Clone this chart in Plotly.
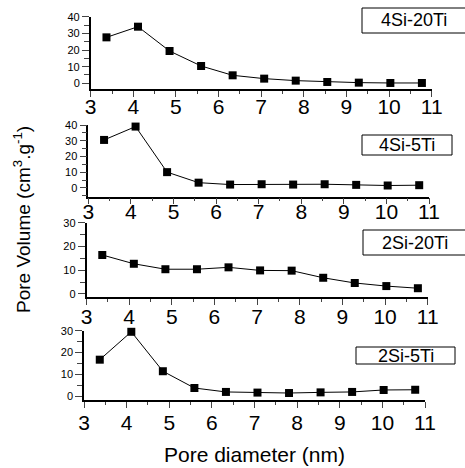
import plotly.graph_objects as go

# Pore diameter (nm) shared by all four samples
pore_diameter = [3.37, 4.11, 4.85, 5.59, 6.33, 7.07, 7.81, 8.55, 9.29, 10.03, 10.77]

# Pore volume (cm3/g) per sample
vol_4si_20ti = [27.6, 34.0, 19.4, 10.4, 4.8, 2.8, 1.6, 0.8, 0.4, 0.2, 0.2]
vol_4si_5ti = [30.5, 39.0, 10.0, 3.3, 2.1, 2.3, 2.1, 2.3, 1.9, 1.5, 1.7]
vol_2si_20ti = [16.4, 12.7, 10.4, 10.4, 11.2, 9.9, 9.8, 6.8, 4.6, 3.3, 2.4]
vol_2si_5ti = [16.7, 29.5, 11.4, 3.7, 1.9, 1.6, 1.4, 1.7, 1.9, 2.8, 2.9]

sample_names = ["4Si-20Ti", "4Si-5Ti", "2Si-20Ti", "2Si-5Ti"]
x_ticks = [3, 4, 5, 6, 7, 8, 9, 10, 11]

W, H = 465, 468
FONT = "Liberation Sans, Arial, sans-serif"

series = [vol_4si_20ti, vol_4si_5ti, vol_2si_20ti, vol_2si_5ti]
# panel layout in pixels: (left, right, top, bottom), y range, y ticks, x label standoff
panels = [
    ((90.7, 431.7, 16.7, 89.3), [-3.6, 40], [0, 10, 20, 30, 40], -8),
    ((88.3, 429.0, 125.0, 196.5), [-5.5, 40], [0, 10, 20, 30, 40], -10),
    ((86.5, 427.7, 222.7, 297.0), [-1.3, 30], [0, 10, 20, 30], -6),
    ((84.0, 425.0, 330.7, 400.0), [-1.8, 30], [0, 10, 20, 30], -3),
]
# sample label boxes: (left, right, top, bottom) in pixels
boxes = [
    (362, 466, 8, 33),
    (362, 452, 135, 155),
    (363, 466, 230, 255),
    (356, 455, 347, 364),
]


def px_x(v):
    return v / W


def px_y(v):
    return 1 - v / H


fig = go.Figure()
annotations = []
shapes = []
for i, (vals, (geo, yr, yt, standoff), name, box) in enumerate(
        zip(series, panels, sample_names, boxes)):
    n = "" if i == 0 else str(i + 1)
    l, r, t, b = geo
    fig.add_trace(go.Scatter(
        x=pore_diameter, y=vals, mode="lines+markers",
        line=dict(color="black", width=1),
        marker=dict(symbol="square", size=8, color="black"),
        xaxis="x" + n, yaxis="y" + n, showlegend=False, cliponaxis=False,
    ))
    fig.update_layout(**{
        "xaxis" + n: dict(
            domain=[px_x(l), px_x(r)], anchor="y" + n, range=[3, 11],
            tickvals=x_ticks, ticks="outside", ticklen=6, tickwidth=1.3,
            showline=True, linecolor="black", linewidth=1.5, showgrid=False,
            zeroline=False, automargin=False, ticklabelstandoff=standoff,
            tickfont=dict(size=21, color="black", family=FONT),
            minor=dict(dtick=0.5, ticks="outside", ticklen=3, tickwidth=1.3, showgrid=False),
        ),
        "yaxis" + n: dict(
            domain=[px_y(b), px_y(t)], anchor="x" + n, range=yr,
            tickvals=yt, ticks="outside", ticklen=7, tickwidth=1.3,
            showline=True, linecolor="black", linewidth=1.5, showgrid=False,
            zeroline=False, automargin=False,
            tickfont=dict(size=11, color="black", family=FONT),
            minor=dict(dtick=5, ticks="outside", ticklen=5, tickwidth=1.3, showgrid=False),
        ),
    })
    bl, br, bt, bb = box
    shapes.append(dict(
        type="rect", xref="paper", yref="paper",
        x0=px_x(bl), x1=px_x(br), y0=px_y(bb), y1=px_y(bt),
        line=dict(color="black", width=1), fillcolor="white", layer="above",
    ))
    annotations.append(dict(
        text=name, xref="paper", yref="paper",
        x=px_x((bl + br) / 2), y=px_y((bt + bb) / 2),
        xanchor="center", yanchor="middle", showarrow=False,
        font=dict(size=18, color="black", family=FONT),
    ))

annotations.append(dict(
    text="Pore Volume (cm<sup>3</sup>.g<sup>-1</sup>)", xref="paper", yref="paper",
    x=px_x(22), y=px_y(220), xanchor="center", yanchor="middle",
    textangle=-90, showarrow=False,
    font=dict(size=19, color="black", family=FONT),
))
annotations.append(dict(
    text="Pore diameter (nm)", xref="paper", yref="paper",
    x=px_x(254), y=px_y(454), xanchor="center", yanchor="middle",
    showarrow=False, font=dict(size=21, color="black", family=FONT),
))

fig.update_layout(
    width=W, height=H, margin=dict(l=0, r=0, t=0, b=0, pad=0, autoexpand=False),
    paper_bgcolor="white", plot_bgcolor="white",
    annotations=annotations, shapes=shapes,
    font=dict(family=FONT, color="black"),
)

fig.write_html("out.html")
